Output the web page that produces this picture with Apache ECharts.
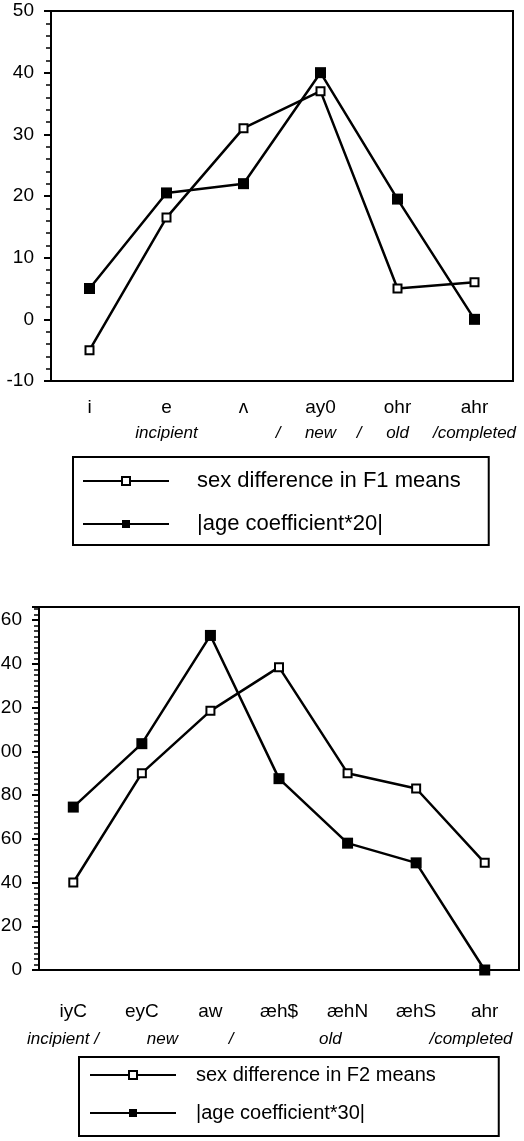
<!DOCTYPE html>
<html>
<head>
<meta charset="utf-8">
<script src="https://cdn.jsdelivr.net/npm/echarts@6/dist/echarts.min.js"></script>
<style>
  html, body { margin: 0; padding: 0; background: #fff; }
  #chart { width: 524px; height: 1141px; }
</style>
</head>
<body>
<div id="chart"></div>
<script>
// upper panel (F1)
const f1Vowels = ["i", "e", "ʌ", "ay0", "ohr", "ahr"];
const f1SexDiff = [-5, 16.5, 31, 37, 5, 6];
const f1AgeCoef = [5, 20.5, 22, 40, 19.5, 0];
const f1YAxis = [-10, 50, 10]; // min, max, step
// [position in category units, text]
const f1Stages = [[1, "incipient"], [2.45, "/"], [3, "new"], [3.5, "/"], [4, "old"], [5, "/completed"]];
const f1Names = ["sex difference in F1 means", "|age coefficient*20|"];

// lower panel (F2)
const f2Vowels = ["iyC", "eyC", "aw", "æh$", "æhN", "æhS", "ahr"];
const f2SexDiff = [40, 90, 118.5, 138.5, 90, 83, 49];
const f2AgeCoef = [74.5, 103.5, 153, 87.5, 58, 49, 0];
const f2YAxis = [0, 166, 20];
const f2Stages = [[-0.15, "incipient /"], [1.3, "new"], [2.3, "/"], [3.75, "old"], [5.8, "/completed"]];
const f2Names = ["sex difference in F2 means", "|age coefficient*30|"];

const font = "'Liberation Sans', Arial, sans-serif";
const black = "#000";

function stageFormatter(stages) {
  return function (v) {
    const hit = stages.find((s) => Math.abs(s[0] - v) < 0.01);
    return hit ? hit[1] : "";
  };
}

const openMark = {
  symbol: "rect",
  symbolSize: 8,
  itemStyle: { color: "#fff", borderColor: black, borderWidth: 2 },
};
const fullMark = {
  symbol: "rect",
  symbolSize: 11,
  itemStyle: { color: black, borderColor: black, borderWidth: 0 },
};

function catAxis(grid, names, margin) {
  return {
    type: "category",
    gridIndex: grid,
    data: names,
    position: "bottom",
    axisLine: { onZero: false, lineStyle: { color: black, width: 2 } },
    axisTick: { alignWithLabel: true, length: 6, lineStyle: { color: black, width: 2 } },
    axisLabel: { margin: margin, color: black, fontSize: 19, fontFamily: font },
    splitLine: { show: false },
  };
}

function stageAxis(grid, count, stages, margin) {
  return {
    type: "value",
    gridIndex: grid,
    position: "bottom",
    min: -0.5,
    max: count - 0.5,
    interval: 0.05,
    axisLine: { show: false, onZero: false },
    axisTick: { show: false },
    splitLine: { show: false },
    axisLabel: {
      margin: margin,
      color: black,
      fontSize: 17,
      fontStyle: "italic",
      fontFamily: font,
      showMinLabel: true,
      showMaxLabel: true,
      formatter: stageFormatter(stages),
    },
  };
}

function valAxis(grid, range, minorSplit) {
  return {
    type: "value",
    gridIndex: grid,
    min: range[0],
    max: range[1],
    interval: range[2],
    axisLine: { show: true, onZero: false, lineStyle: { color: black, width: 2 } },
    axisTick: { show: true, length: 7, lineStyle: { color: black, width: 2 } },
    minorTick: { show: true, splitNumber: minorSplit, length: 5, lineStyle: { color: black, width: 1.5 } },
    splitLine: { show: false },
    axisLabel: {
      margin: 17,
      color: black,
      fontSize: 19,
      fontFamily: font,
      formatter: (v) => (v % range[2] === 0 ? String(v) : ""),
    },
  };
}

function lineSeries(name, data, xi, yi, mark) {
  return Object.assign(
    {
      name: name,
      type: "line",
      xAxisIndex: xi,
      yAxisIndex: yi,
      data: data,
      color: black,
      lineStyle: { color: black, width: 2.5 },
      z: 3,
    },
    mark
  );
}

function legendBox(names, left, top, gap, padding, fontSize, textPad) {
  return {
    orient: "vertical",
    left: left,
    top: top,
    data: names,
    itemWidth: 86,
    itemHeight: 10,
    itemGap: gap,
    padding: padding,
    borderColor: black,
    borderWidth: 2,
    selectedMode: false,
    textStyle: { color: black, fontSize: fontSize, fontFamily: font, padding: [0, 0, 0, textPad] },
  };
}

const chart = echarts.init(document.getElementById("chart"));
chart.setOption({
  animation: false,
  backgroundColor: "#fff",
  grid: [
    { left: 51, top: 11, width: 462, height: 370, show: true, borderColor: black, borderWidth: 2, outerBoundsMode: "none" },
    { left: 39, top: 607, width: 480, height: 363, show: true, borderColor: black, borderWidth: 2, outerBoundsMode: "none" },
  ],
  xAxis: [
    catAxis(0, f1Vowels, 17),
    stageAxis(0, f1Vowels.length, f1Stages, 44),
    catAxis(1, f2Vowels, 32),
    stageAxis(1, f2Vowels.length, f2Stages, 61),
  ],
  yAxis: [valAxis(0, f1YAxis, 5), valAxis(1, f2YAxis, 8)],
  legend: [
    legendBox(f1Names, 73, 457, 21, [13, 28, 10, 9], 22, 23),
    legendBox(f2Names, 79, 1057, 18, [8, 63, 13, 10], 20, 15),
  ],
  series: [
    lineSeries(f1Names[0], f1SexDiff, 0, 0, openMark),
    lineSeries(f1Names[1], f1AgeCoef, 0, 0, fullMark),
    lineSeries(f2Names[0], f2SexDiff, 2, 1, openMark),
    lineSeries(f2Names[1], f2AgeCoef, 2, 1, fullMark),
  ],
});
</script>
</body>
</html>
